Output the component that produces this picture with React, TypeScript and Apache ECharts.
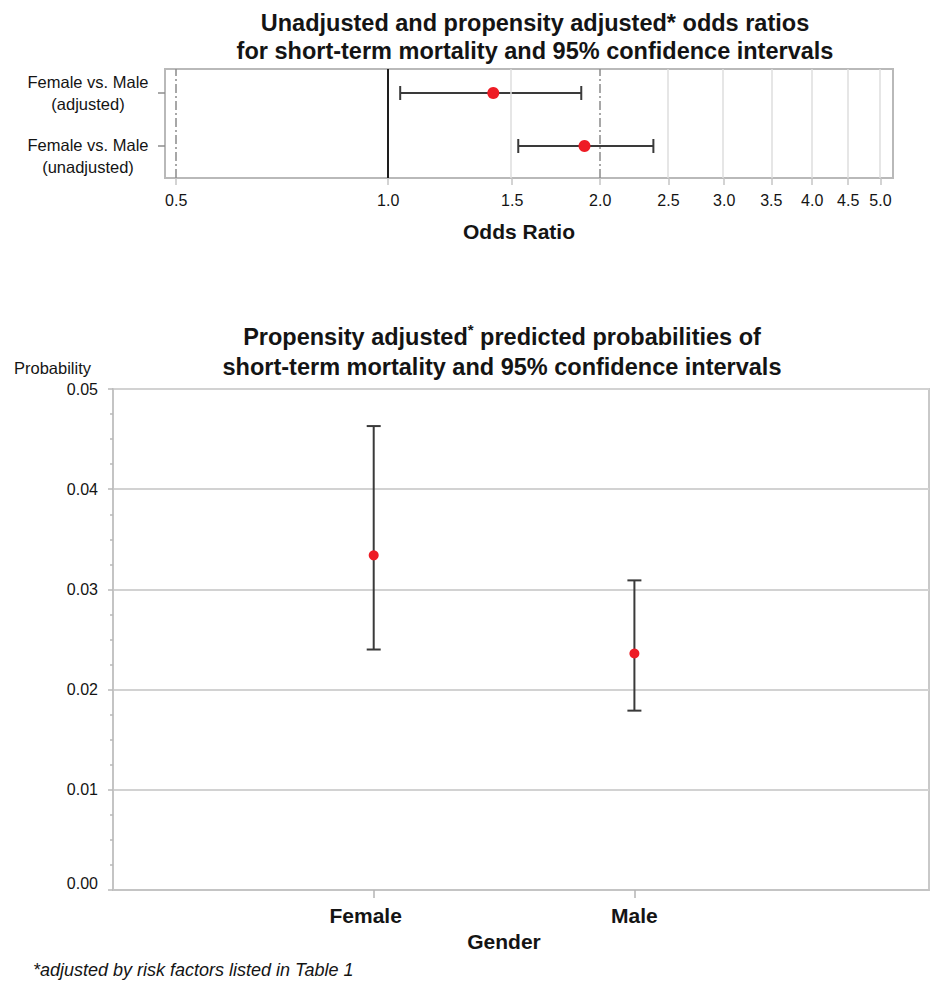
import React, { useEffect, useRef } from "react";
import * as echarts from "echarts";

// ---------- Data: odds ratios (top panel) ----------
const orCategories = ["Female vs. Male (adjusted)", "Female vs. Male (unadjusted)"];
const orEstimate = [1.41, 1.9];
const orLower = [1.04, 1.53];
const orUpper = [1.88, 2.38];
const orTickValues = [0.5, 1.0, 1.5, 2.0, 2.5, 3.0, 3.5, 4.0, 4.5, 5.0];
const orTickLabels = ["0.5", "1.0", "1.5", "2.0", "2.5", "3.0", "3.5", "4.0", "4.5", "5.0"];
const orReferenceLines = [0.5, 1.0, 2.0];

// ---------- Data: predicted probabilities (bottom panel) ----------
const genderCategories = ["Female", "Male"];
const probEstimate = [0.0334, 0.0236];
const probLower = [0.024, 0.0179];
const probUpper = [0.0463, 0.0309];

const FONT = "'Liberation Sans', Arial, Helvetica, sans-serif";
const TEXT = "#141414";

const rowPos = (i: number) => orCategories.length - 1 - i;

export default function App() {
  const ref = useRef<HTMLDivElement>(null);

  useEffect(() => {
    if (!ref.current) return;
    const chart = echarts.init(ref.current, undefined, { renderer: "svg" });

    const logTicks = orTickValues.map((t) => Math.log2(t));
    const tickLabelFor = (v: number) => {
      let best = 0;
      let bd = Infinity;
      logTicks.forEach((lt, i) => {
        const d = Math.abs(lt - v);
        if (d < bd) {
          bd = d;
          best = i;
        }
      });
      return orTickLabels[best];
    };

    const refStyle = (t: number) =>
      t === 1
        ? { color: "#1e1e1e", width: 2, type: "solid" }
        : { color: "#8a8a8a", width: 1.5, type: [9, 3, 2, 3] };

    const markLineData = [
      ...orTickValues
        .filter((t) => !orReferenceLines.includes(t))
        .map((t) => ({ xAxis: Math.log2(t), lineStyle: { color: "#dedede", width: 1.5, type: "solid" } })),
      ...orReferenceLines.map((t) => ({ xAxis: Math.log2(t), lineStyle: refStyle(t) })),
    ];

    const barStyle = { stroke: "#3a3a3a", lineWidth: 2 };

    const option: any = {
      animation: false,
      textStyle: { fontFamily: FONT, color: TEXT },
      title: [
        {
          text: "Unadjusted and propensity adjusted* odds ratios\nfor short-term mortality and 95% confidence intervals",
          left: 530,
          top: 4,
          textAlign: "center",
          textStyle: { fontFamily: FONT, fontSize: 23.5, fontWeight: "bold", color: TEXT, lineHeight: 28 },
        },
        {
          text: "Propensity adjusted{sup|*} predicted probabilities of\nshort-term mortality and 95% confidence intervals",
          left: 497,
          top: 317,
          textAlign: "center",
          textStyle: {
            fontFamily: FONT,
            fontSize: 23.5,
            fontWeight: "bold",
            color: TEXT,
            lineHeight: 30,
            rich: {
              sup: { fontFamily: FONT, fontSize: 15, fontWeight: "bold", color: TEXT, verticalAlign: "top" },
            },
          },
        },
      ],
      grid: [
        { left: 165, top: 69, width: 728, height: 109, show: true, borderColor: "#b9b9b9", borderWidth: 2 },
        { left: 113, top: 389, width: 816, height: 501, show: true, borderColor: "#c9c9c9", borderWidth: 2 },
      ],
      xAxis: [
        {
          gridIndex: 0,
          type: "value",
          position: "bottom",
          min: Math.log2(0.482),
          max: Math.log2(5.21),
          axisLine: { show: false, onZero: false },
          splitLine: { show: false },
          axisTick: { show: true, customValues: logTicks, length: 7, lineStyle: { color: "#c4c4c4", width: 1.5 } },
          axisLabel: {
            customValues: logTicks,
            formatter: (v: number) => tickLabelFor(v),
            fontSize: 16,
            color: TEXT,
            fontFamily: FONT,
            margin: 14,
          },
          name: "Odds Ratio",
          nameLocation: "middle",
          nameGap: 43,
          nameTextStyle: { fontFamily: FONT, fontSize: 21, fontWeight: "bold", color: TEXT, padding: [0, 20, 0, 0] },
        },
        {
          gridIndex: 1,
          type: "value",
          position: "bottom",
          min: 0,
          max: 3.13,
          axisLine: { show: true, onZero: false, lineStyle: { color: "#c4c4c4", width: 2 } },
          splitLine: { show: false },
          axisTick: { show: true, customValues: [1, 2], length: 8, lineStyle: { color: "#b4b4b4", width: 1.5 } },
          axisLabel: {
            customValues: [1, 2],
            formatter: (v: number) => {
              const i = Math.round(v) - 1;
              const name = genderCategories[i] ?? "";
              return i === 0 ? `{f|${name}}` : `{m|${name}}`;
            },
            rich: {
              f: { fontFamily: FONT, fontSize: 21, fontWeight: "bold", color: TEXT, padding: [0, 16, 0, 0] },
              m: { fontFamily: FONT, fontSize: 21, fontWeight: "bold", color: TEXT },
            },
            margin: 15,
          },
          name: "Gender",
          nameLocation: "middle",
          nameGap: 38,
          nameTextStyle: { fontFamily: FONT, fontSize: 21, fontWeight: "bold", color: TEXT, padding: [0, 34, 0, 0] },
        },
      ],
      yAxis: [
        {
          gridIndex: 0,
          type: "value",
          position: "left",
          min: -0.604,
          max: 1.453,
          axisLine: { show: false, onZero: false },
          splitLine: { show: false },
          axisTick: { show: true, customValues: [0, 1], length: 7, lineStyle: { color: "#8c8c8c", width: 1.5 } },
          axisLabel: {
            customValues: [0, 1],
            align: "center",
            margin: 77,
            formatter: (v: number) => {
              const i = orCategories.length - 1 - Math.round(v);
              const lines = (orCategories[i] ?? "").replace(" (", "\n(").split("\n");
              const body = lines.map((l) => `{t|${l}}`).join("\n");
              return i === 1 ? `{s| }\n${body}` : body;
            },
            rich: {
              t: { fontFamily: FONT, fontSize: 16.5, color: TEXT, lineHeight: 22.5, align: "center" },
              s: { fontSize: 2, lineHeight: 20 },
            },
          },
        },
        {
          gridIndex: 1,
          type: "value",
          position: "left",
          min: 0,
          max: 0.05,
          interval: 0.01,
          axisLine: { show: true, onZero: false, lineStyle: { color: "#c4c4c4", width: 2 } },
          axisTick: { show: true, length: 5, lineStyle: { color: "#b9b9b9", width: 1.5 } },
          minorTick: { show: true, splitNumber: 4, length: 3, lineStyle: { color: "#b9b9b9", width: 1.5 } },
          splitLine: { show: true, lineStyle: { color: "#d2d2d2", width: 2 } },
          axisLabel: {
            formatter: (v: number) => (Math.abs(v) < 1e-9 ? `{z|${v.toFixed(2)}}` : v.toFixed(2)),
            fontSize: 16,
            color: TEXT,
            fontFamily: FONT,
            margin: 15,
            rich: { z: { fontFamily: FONT, fontSize: 16, color: TEXT, padding: [0, 0, 14, 0] } },
          },
          name: "Probability",
          nameLocation: "end",
          nameGap: 13,
          nameTextStyle: { fontFamily: FONT, fontSize: 16.5, color: TEXT, align: "right", padding: [0, 22, 0, 0] },
        },
      ],
      series: [
        {
          type: "line",
          xAxisIndex: 0,
          yAxisIndex: 0,
          data: [],
          z: 1,
          silent: true,
          markLine: {
            silent: true,
            symbol: ["none", "none"],
            label: { show: false },
            data: markLineData,
          },
        },
        {
          type: "custom",
          xAxisIndex: 0,
          yAxisIndex: 0,
          z: 3,
          encode: { x: [1, 2], y: 0 },
          data: orCategories.map((_, i) => [rowPos(i), Math.log2(orLower[i]), Math.log2(orUpper[i])]),
          renderItem: (params: any, api: any) => {
            const pos = api.value(0);
            const a = api.coord([api.value(1), pos]);
            const b = api.coord([api.value(2), pos]);
            return {
              type: "group",
              children: [
                { type: "line", shape: { x1: a[0], y1: a[1], x2: b[0], y2: b[1] }, style: barStyle },
                { type: "line", shape: { x1: a[0], y1: a[1] - 7, x2: a[0], y2: a[1] + 7 }, style: barStyle },
                { type: "line", shape: { x1: b[0], y1: b[1] - 7, x2: b[0], y2: b[1] + 7 }, style: barStyle },
              ],
            };
          },
        },
        {
          type: "scatter",
          xAxisIndex: 0,
          yAxisIndex: 0,
          z: 4,
          symbolSize: 12,
          itemStyle: { color: "#ee1c25", opacity: 1 },
          data: orCategories.map((_, i) => [Math.log2(orEstimate[i]), rowPos(i)]),
        },
        {
          type: "custom",
          xAxisIndex: 1,
          yAxisIndex: 1,
          z: 3,
          encode: { x: 0, y: [1, 2] },
          data: genderCategories.map((_, i) => [i + 1, probLower[i], probUpper[i]]),
          renderItem: (params: any, api: any) => {
            const x = api.value(0);
            const a = api.coord([x, api.value(1)]);
            const b = api.coord([x, api.value(2)]);
            return {
              type: "group",
              children: [
                { type: "line", shape: { x1: a[0], y1: a[1], x2: b[0], y2: b[1] }, style: barStyle },
                { type: "line", shape: { x1: a[0] - 7, y1: a[1], x2: a[0] + 7, y2: a[1] }, style: barStyle },
                { type: "line", shape: { x1: b[0] - 7, y1: b[1], x2: b[0] + 7, y2: b[1] }, style: barStyle },
              ],
            };
          },
        },
        {
          type: "scatter",
          xAxisIndex: 1,
          yAxisIndex: 1,
          z: 4,
          symbolSize: 10,
          itemStyle: { color: "#ee1c25", opacity: 1 },
          data: genderCategories.map((_, i) => [i + 1, probEstimate[i]]),
        },
      ],
      graphic: [
        {
          type: "text",
          left: 33,
          top: 961,
          style: {
            text: "*adjusted by risk factors listed in Table 1",
            fontFamily: FONT,
            fontSize: 18,
            fontStyle: "italic",
            fill: TEXT,
          },
        },
      ],
    };

    chart.setOption(option);
    return () => chart.dispose();
  }, []);

  return (
    <div
      ref={ref}
      style={{ position: "absolute", left: 0, top: 0, width: 930, height: 983, background: "#ffffff" }}
    />
  );
}
